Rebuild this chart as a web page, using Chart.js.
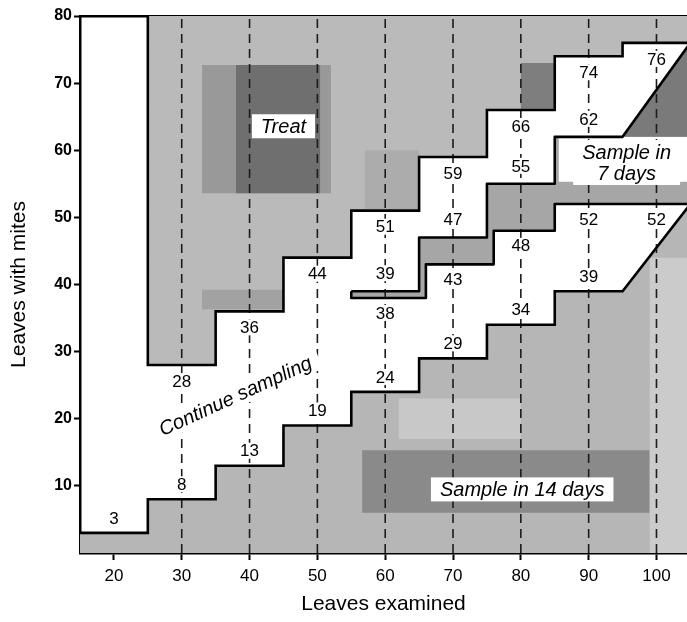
<!DOCTYPE html>
<html>
<head>
<meta charset="utf-8">
<script src="https://cdn.jsdelivr.net/npm/chart.js@4.4.1/dist/chart.umd.min.js"></script>
<style>
  html, body { margin: 0; padding: 0; background: #fff; }
  #wrap { width: 687px; height: 622px; }
</style>
</head>
<body>
<div id="wrap"><canvas id="plan" width="687" height="622"></canvas></div>
<script>
// Sequential sampling plan for mites: leaves examined vs. leaves with mites.
const xTicks = [20, 30, 40, 50, 60, 70, 80, 90, 100];
const yTicks = [10, 20, 30, 40, 50, 60, 70, 80];
const sampleSizes = [20, 30, 40, 50, 60, 70, 80, 90, 100];

// Decision limits per sample size (null where no limit applies)
const treatLimit = [null, 28, 36, 44, 51, 59, 66, 74, 76];
const sample14Limit = [3, 8, 13, 19, 24, 29, 34, 39, null];
const sample7Upper = [null, null, null, null, 39, 47, 55, 62, null];
const sample7Lower = [null, null, null, null, 38, 43, 48, 52, 52];

// Column edges where each limit steps to its next value
const treatEdges = [25, 35, 45, 55, 65, 75, 85, 95, 105];
const sample14Edges = [15, 25, 35, 45, 55, 65, 75, 85, 95];
const sample7UpperEdges = [55, 65, 75, 85, 95];
const sample7LowerEdges = [55, 66, 76, 85, 105];

// Sloped ends of the limits past the last full step
const sample14SlopeEnd = { x: 105, y: 52 };
const sample7SlopeEnd = { x: 105, y: 76 };

// Vertical guide lines at the sampled sizes
const guideLines = [30, 40, 50, 60, 70, 80, 90, 100];

// Tonal patches inside the decision regions: [x0, x1, y0, y1, colour]
// (later entries sit on top of earlier ones)
const tonePatches = [
  [33, 52, 53.6, 72.7, '#999999'],
  [38, 50.4, 53.6, 72.7, '#6f6f6f'],
  [33, 45, 36.3, 39.2, '#a2a2a2'],
  [80, 85, 66.2, 73, '#7e7e7e'],
  [57, 65, 51.2, 60, '#acacac'],
  [56.6, 99, 6, 15.3, '#8a8a8a'],
  [99, 105, 0, 44, '#cbcbcb'],
  [62, 80, 17, 23, '#c8c8c8'],
  [85.6, 105, 55.3, 62, '#ffffff']
];

const FONT = '"Liberation Sans", Arial, Helvetica, sans-serif';

// ---- geometry helpers -------------------------------------------------
function stepPoints(edges, values) {
  const pts = [];
  for (let i = 0; i < values.length; i++) {
    pts.push({ x: edges[i], y: values[i] });
    pts.push({ x: edges[i + 1], y: values[i] });
  }
  return pts;
}
const defined = a => a.filter(v => v !== null);

const treatLine = [{ x: treatEdges[0], y: 80 }].concat(stepPoints(treatEdges, defined(treatLimit)));
const treatShape = treatLine.concat([{ x: treatEdges[treatEdges.length - 1], y: 80 }]);

const lowLine = stepPoints(sample14Edges, defined(sample14Limit)).concat([sample14SlopeEnd]);
const lowShape = [{ x: sample14Edges[0], y: 0 }].concat(lowLine, [{ x: sample14SlopeEnd.x, y: 0 }]);

const upper7 = defined(sample7Upper);
const lower7 = defined(sample7Lower);
const band7Top = stepPoints(sample7UpperEdges, upper7).concat([sample7SlopeEnd]);
// lower side: the last two columns share one level
const band7Bottom = stepPoints(sample7LowerEdges, lower7.slice(0, 4));
const band7Shape = band7Top.concat(band7Bottom.slice().reverse());
band7Shape.push(band7Top[0]);

const slopeShade = [
  { x: sample7UpperEdges[sample7UpperEdges.length - 1], y: upper7[upper7.length - 1] },
  sample7SlopeEnd,
  { x: sample7SlopeEnd.x, y: upper7[upper7.length - 1] }
];

// ---- datasets ---------------------------------------------------------
const datasets = [];
function add(ds, order) {
  datasets.push(Object.assign({
    xAxisID: 'x', yAxisID: 'y', pointRadius: 0, borderWidth: 0,
    borderColor: 'transparent', tension: 0, order: order
  }, ds));
}
// region fills (drawn first)
add({ data: treatShape, fill: 'shape', backgroundColor: '#bababa' }, 100);
add({ data: lowShape, fill: 'shape', backgroundColor: '#b6b6b6' }, 100);
add({ data: band7Shape, fill: 'shape', backgroundColor: '#a6a6a6' }, 100);
tonePatches.forEach((p, i) => {
  add({
    data: [{ x: p[0], y: p[2] }, { x: p[1], y: p[2] }, { x: p[1], y: p[3] }, { x: p[0], y: p[3] }, { x: p[0], y: p[2] }],
    fill: 'shape', backgroundColor: p[4]
  }, 90 - i);
});
add({ data: slopeShade.concat([slopeShade[0]]), fill: 'shape', backgroundColor: '#7a7a7a' }, 70);
// guide lines
guideLines.forEach(v => {
  add({ data: [{ x: v, y: 0 }, { x: v, y: 80 }], fill: false, borderColor: '#1c1c1c',
        borderWidth: 1.6, borderDash: [9, 6] }, 50);
});
// limit outlines
const outline = { fill: false, borderColor: '#000', borderWidth: 2.6, borderJoinStyle: 'miter' };
add(Object.assign({ data: treatLine }, outline), 10);
add(Object.assign({ data: lowLine }, outline), 10);
add(Object.assign({ data: band7Shape }, outline, { borderJoinStyle: 'round' }), 10);

// ---- text annotations --------------------------------------------------
const annotations = [
  { text: ['Treat'], x: 45, y: 63.5, box: true },
  { text: ['Sample in', '7 days'], x: 95.6, y: 58.1, box: true },
  { text: ['Sample in 14 days'], x: 80.2, y: 9.4, box: true },
  { text: ['Continue sampling'], x: 37.9, y: 23.4, box: true, angle: -24.5 }
];

const labelPlugin = {
  id: 'planLabels',
  afterDatasetsDraw(chart) {
    const { ctx, scales, chartArea } = chart;
    const xs = scales.x, ys = scales.y;
    ctx.save();
    ctx.beginPath();
    ctx.rect(chartArea.left, chartArea.top, chartArea.right - chartArea.left, chartArea.bottom - chartArea.top);
    ctx.clip();
    ctx.textAlign = 'center';
    ctx.textBaseline = 'middle';
    ctx.font = '17px ' + FONT;

    function num(n, v, dy) {
      if (v === null) return;
      const px = xs.getPixelForValue(n);
      const py = ys.getPixelForValue(v) + dy;
      const t = String(v);
      const w = ctx.measureText(t).width;
      ctx.fillStyle = '#fff';
      ctx.fillRect(px - w / 2 - 2, py - 8, w + 4, 16);
      ctx.fillStyle = '#000';
      ctx.fillText(t, px, py + 1);
    }
    sampleSizes.forEach((n, i) => {
      num(n, treatLimit[i], 16);
      num(n, sample14Limit[i], -15);
      num(n, sample7Upper[i], -18);
      num(n, sample7Lower[i], 15);
    });

    ctx.font = 'italic 20px ' + FONT;
    annotations.forEach(a => {
      const px = xs.getPixelForValue(a.x);
      const py = ys.getPixelForValue(a.y);
      ctx.save();
      ctx.translate(px, py);
      if (a.angle) ctx.rotate(a.angle * Math.PI / 180);
      const lh = 21;
      const w = Math.max.apply(null, a.text.map(t => ctx.measureText(t).width));
      const h = lh * a.text.length;
      if (a.box) {
        ctx.fillStyle = '#fff';
        ctx.fillRect(-w / 2 - 9, -h / 2 - 2, w + 18, h + 3);
      }
      ctx.fillStyle = '#000';
      a.text.forEach((t, k) => {
        ctx.fillText(t, 0, -h / 2 + lh * k + lh / 2 + 1);
      });
      ctx.restore();
    });
    ctx.restore();
  }
};

new Chart(document.getElementById('plan'), {
  type: 'line',
  data: { datasets: datasets },
  plugins: [labelPlugin],
  options: {
    responsive: false,
    animation: false,
    events: [],
    layout: { padding: { top: 16, right: 0, bottom: 0, left: 0 } },
    plugins: { legend: { display: false }, tooltip: { enabled: false } },
    scales: {
      x: {
        type: 'linear', position: 'bottom', min: 15, max: 104.5,
        afterBuildTicks: s => { s.ticks = xTicks.map(v => ({ value: v })); },
        afterFit: s => { s.height = 69; },
        grid: { drawOnChartArea: false, drawTicks: true, tickLength: 7, tickWidth: 2, tickColor: '#000' },
        border: { display: true, color: '#000', width: 2.5 },
        ticks: { color: '#000', font: { family: FONT, size: 17 }, padding: 6, maxRotation: 0, autoSkip: false },
        title: { display: true, text: 'Leaves examined', color: '#000', font: { family: FONT, size: 21 }, padding: { top: 0, bottom: 5 } }
      },
      x2: {
        type: 'linear', position: 'top', min: 15, max: 104.5,
        afterFit: s => { s.height = 0; },
        grid: { drawOnChartArea: false, drawTicks: false },
        border: { display: true, color: '#000', width: 2.5 },
        ticks: { display: false }
      },
      y: {
        type: 'linear', position: 'left', min: 0, max: 80,
        afterBuildTicks: s => { s.ticks = yTicks.map(v => ({ value: v })); },
        afterFit: s => { s.width = 80; },
        grid: { drawOnChartArea: false, drawTicks: true, tickLength: 6, tickWidth: 2, tickColor: '#000' },
        border: { display: true, color: '#000', width: 2.5 },
        ticks: { color: '#000', font: { family: FONT, size: 16, weight: 'bold' }, padding: 2 },
        title: { display: true, text: 'Leaves with mites', color: '#000', font: { family: FONT, size: 21 }, padding: { top: 7, bottom: 0 } }
      }
    }
  }
});
</script>
</body>
</html>
